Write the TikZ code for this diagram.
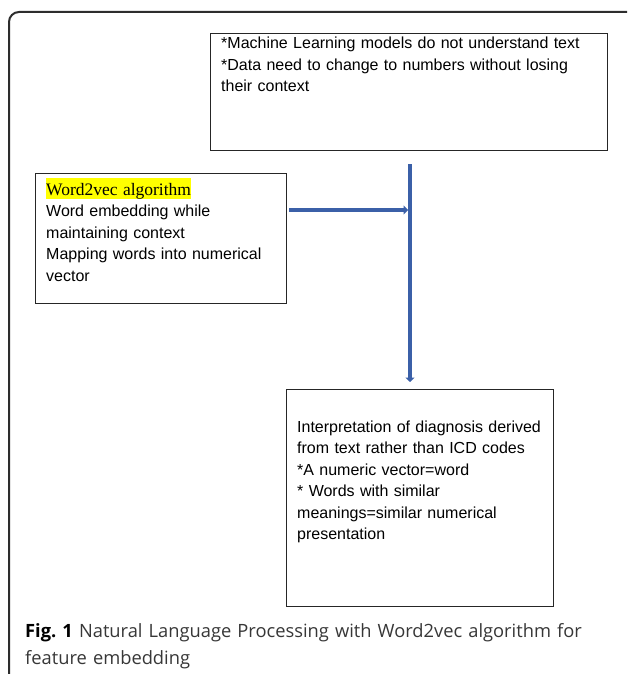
\documentclass[tikz,border=0pt]{standalone}
\usepackage{fontspec}
\setmainfont{Liberation Sans}
\newfontfamily\serifw{Liberation Serif}
\newfontfamily\capfont{Open Sans}
\usetikzlibrary{arrows.meta,calc}
\definecolor{arrowblue}{RGB}{59,96,168}
\definecolor{framegray}{RGB}{45,45,45}
\definecolor{capgray}{RGB}{55,55,55}
\definecolor{hl}{RGB}{255,255,0}
\frenchspacing
\begin{document}
\begin{tikzpicture}[x=1pt,y=-1pt,
  box/.style={draw=black!85, line width=0.9pt, rectangle, inner sep=0pt, anchor=north west},
  boxtext/.style={anchor=base west, align=left, inner sep=0pt, text width=#1,
    font=\fontsize{16}{21.5}\selectfont},
  flow/.style={draw=arrowblue, line width=3.6pt, -{Triangle[length=4.5pt,width=9pt]}},
  caption/.style={anchor=base west, align=left, inner sep=0pt, text width=600pt,
    font=\capfont\fontsize{18.3}{26.5}\selectfont, text=capgray}
]
\useasboundingbox (0,0) rectangle (627,674);
\fill[white] (0,0) rectangle (627,674);

% outer frame
\draw[framegray, line width=2pt, rounded corners=10pt] (9,674) -- (9,12) -- (627,12);

% boxes
\node[box, minimum width=397pt, minimum height=117pt] (topbox) at (210,33) {};
\node[box, minimum width=251pt, minimum height=130pt] (leftbox) at (35,173) {};
\node[box, minimum width=267pt, minimum height=217pt] (botbox) at (286,389) {};

% texts
\node[boxtext=390pt] (toptext) at (221,49)
  {*Machine Learning models do not understand text\\
   \relax*Data need to change to numbers without losing\\
   their context};
\node[boxtext=245pt] (lefttext) at (46,195)
  {{\setlength\fboxsep{0pt}\colorbox{hl}{\rule[-4pt]{0pt}{21pt}\serifw\fontsize{17.5}{21.5}\selectfont Word2vec algorithm}}\\
   Word embedding while\\
   maintaining context\\
   Mapping words into numerical\\
   vector};
\node[boxtext=255pt] (bottext) at (297,432)
  {Interpretation of diagnosis derived\\
   from text rather than ICD codes\\
   \relax*A numeric vector=word\\
   \relax* Words with similar\\
   meanings=similar numerical\\
   presentation};

% connectors
\coordinate (hs) at (289,210);
\coordinate (he) at (408,210);
\coordinate (vs) at (410,164);
\coordinate (ve) at (410,382);
\draw[flow] (hs) -- (he);
\draw[flow] (vs) -- (ve);

% caption
\node[caption] (cap) at (25,637.5)
  {{\color{black}\bfseries Fig. 1} Natural Language Processing with Word2vec algorithm for\\
   feature embedding};
\end{tikzpicture}
\end{document}
